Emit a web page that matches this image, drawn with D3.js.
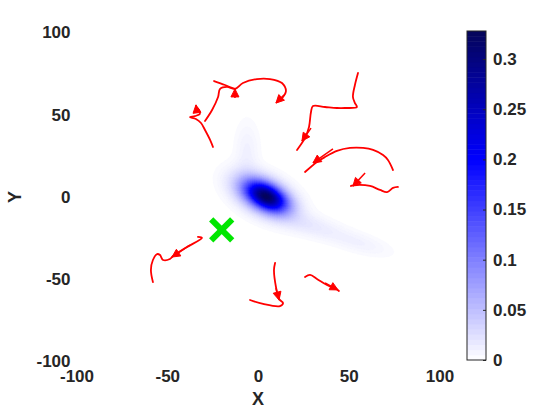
<!DOCTYPE html>
<html>
<head>
<meta charset="utf-8">
<script src="https://cdn.jsdelivr.net/npm/d3@7"></script>
<style>
body { margin: 0; background: #fff; }
text { font-family: "Liberation Sans", Arial, Helvetica, sans-serif; font-weight: bold; fill: #262626; }
</style>
</head>
<body>
<svg id="chart" width="560" height="420"></svg>
<script>
// ticks
var xTicks = [-100, -50, 0, 50, 100];
var yTicks = [-100, -50, 0, 50, 100];
var cbTicks = [0, 0.05, 0.1, 0.15, 0.2, 0.25, 0.3];
var cbMax = 0.328;

// density field, as a few elongated bumps
var blobX     = [5, 3, -6, 28, 56];
var blobY     = [0, 1, 28, -17, -28];
var blobSa    = [8, 11, 4.5, 13, 12];   // spread along the bump
var blobSb    = [4.5, 6.5, 12, 4.5, 4];  // spread across
var blobAngle = [-32, -32, 0, -18, -18];
var blobPeak  = [0.2, 0.13, 0.011, 0.016, 0.01];

// green cross
var target = [-20, -20];

// red tracks
var trackA = [[-24.8,30.4],[-26.4,34.7],[-29.2,40.7],[-31.4,45.0],[-34.2,47.4],[-37.5,48.6],[-34.7,49.2],[-32.0,50.5],[-32.5,52.9],[-34.2,54.7]];
var trackB0 = [[-24.2,70.5],[-18.2,68.1],[-12.7,65.7]];
var trackB = [[-29.2,46.2],[-25.3,52.9],[-22.0,60.8],[-20.9,65.7],[-17.1,66.9],[-12.7,65.7],[-8.3,69.3],[-0.6,71.7],[6.6,71.7],[13.2,69.3],[15.4,64.4],[13.8,60.8],[10.5,57.8]];
var trackC = [[55.1,75.4],[53.4,68.1],[52.3,60.8],[53.4,57.1],[54.5,54.7],[47.9,54.1],[43.5,54.1],[36.9,54.7],[30.3,55.3],[29.2,51.7],[28.1,42.6],[25.9,35.9],[24.2,32.8],[21.5,28.6]];
var trackD = [[74.4,16.4],[71.6,22.5],[68.9,25.5],[63.4,28.6],[57.9,29.8],[50.7,29.8],[43.5,28.0],[36.9,24.3],[32.5,21.3],[25.9,15.2]];
var trackE = [[77.1,6.1],[74.4,5.5],[71.1,3.0],[67.2,4.3],[61.7,6.7],[54.5,7.3],[51.2,6.7]];
var trackF = [[-57.9,-51.7],[-59.0,-44.4],[-57.9,-38.3],[-55.6,-34.7],[-54.0,-35.3],[-52.3,-38.3],[-48.5,-37.7],[-46.8,-35.9],[-39.1,-30.4],[-30.9,-24.9],[-33.1,-24.3]];
var trackG = [[-4.4,-62.6],[2.8,-65.0],[12.1,-66.3],[13.8,-64.4],[11.6,-62.0],[9.9,-54.7],[8.8,-44.4],[9.4,-40.1]];
var trackH = [[25.9,-48.6],[28.7,-47.4],[32.5,-49.8],[38.0,-53.5],[43.0,-55.9],[44.6,-57.1]];
var tracks = [trackA, trackB0, trackB, trackC, trackD, trackE, trackF, trackG, trackH];

// heading arrows: tail (x, y) and offset (u, v)
var arrowX = [-33.6, -12.7, 14.3, 29.2, 41.3, 59.0, -37.5, 9.9, 36.9];
var arrowY = [51.1, 60.2, 62.0, 41.9, 29.2, 14.6, -29.2, -55.3, -52.3];
var arrowU = [-0.6, 0.0, -4.4, -5.0, -11.0, -6.7, -9.9, 1.7, 7.2];
var arrowV = [4.9, 5.5, -4.9, -7.9, -8.5, -7.9, -7.3, -7.3, -4.2];

var svg = d3.select('#chart');

var x = d3.scaleLinear().domain([-100, 100]).range([76.5, 439.5]);
var y = d3.scaleLinear().domain([-100, 100]).range([361.5, 32.5]);

var color = d3.scaleLinear()
	.domain([0, 0.2, cbMax])
	.range(['#ffffff', '#0000ff', '#05055a'])
	.clamp(true);

svg.append('clipPath').attr('id', 'plotclip')
	.append('rect')
	.attr('x', x(-100)).attr('y', y(100))
	.attr('width', x(100) - x(-100)).attr('height', y(-100) - y(100));

var plot = svg.append('g').attr('clip-path', 'url(#plotclip)');

// density grid, 1 unit per cell, row 0 at the top
var step = 1, n = 201;
var grid = new Float64Array(n * n);
for (var j = 0; j < n; j++){
	for (var i = 0; i < n; i++){
		var X = -100 + i * step, Y = 100 - j * step, v = 0;
		for (var k = 0; k < blobX.length; k++){
			var a = blobAngle[k] * Math.PI / 180;
			var dx = X - blobX[k], dy = Y - blobY[k];
			var p = dx * Math.cos(a) + dy * Math.sin(a);
			var q = -dx * Math.sin(a) + dy * Math.cos(a);
			v += blobPeak[k] * Math.exp(-0.5 * (p * p / (blobSa[k] * blobSa[k]) + q * q / (blobSb[k] * blobSb[k])));
		}
		grid[j * n + i] = v;
	}
}

var levels = d3.range(1, 128).map(function(k){ return k * cbMax / 128; });
var contours = d3.contours().size([n, n]).thresholds(levels)(grid);

var toPlot = d3.geoTransform({
	point: function(gx, gy){
		this.stream.point(x(-100 + (gx - 0.5) * step), y(100 - (gy - 0.5) * step));
	}
});

plot.append('g').selectAll('path')
	.data(contours)
	.enter()
	.append('path')
	.attr('d', d3.geoPath(toPlot))
	.attr('fill', function(d){ return color(d.value + cbMax / 256); })
	.attr('stroke', function(d){ return color(d.value + cbMax / 256); })
	.attr('stroke-width', 0.3);

// tracks
var line = d3.line()
	.x(function(d){ return x(d[0]); })
	.y(function(d){ return y(d[1]); })
	.curve(d3.curveCatmullRom);

plot.append('g').selectAll('path')
	.data(tracks)
	.enter()
	.append('path')
	.attr('d', line)
	.attr('fill', 'none')
	.attr('stroke', '#ff0000')
	.attr('stroke-width', 1.8)
	.attr('stroke-linejoin', 'round')
	.attr('stroke-linecap', 'round');

// arrows
var arrowG = plot.append('g');
arrowX.forEach(function(ax, idx){
	var x0 = x(ax), y0 = y(arrowY[idx]);
	var x1 = x(ax + arrowU[idx]), y1 = y(arrowY[idx] + arrowV[idx]);
	var len = Math.hypot(x1 - x0, y1 - y0);
	var ux = (x1 - x0) / len, uy = (y1 - y0) / len;
	var L = 8, W = 4;
	arrowG.append('line')
		.attr('x1', x0).attr('y1', y0).attr('x2', x1).attr('y2', y1)
		.attr('stroke', '#ff0000').attr('stroke-width', 1.5);
	var bx = x1 - L * ux, by = y1 - L * uy;
	arrowG.append('polygon')
		.attr('points', [[x1, y1], [bx - W * uy, by + W * ux], [bx + W * uy, by - W * ux]].map(function(p){ return p.join(','); }).join(' '))
		.attr('fill', '#ff0000')
		.attr('stroke', '#ff0000')
		.attr('stroke-width', 1);
});

// green cross
var cx = x(target[0]), cy = y(target[1]), h = 10.5;
var cross = svg.append('g').attr('stroke', '#00e600').attr('stroke-width', 6).attr('stroke-linecap', 'butt');
cross.append('line').attr('x1', cx - h).attr('y1', cy - h).attr('x2', cx + h).attr('y2', cy + h);
cross.append('line').attr('x1', cx - h).attr('y1', cy + h).attr('x2', cx + h).attr('y2', cy - h);

// axes (labels only)
var plain = function(d){ return String(d); };
var xAxis = svg.append('g')
	.attr('transform', 'translate(0,' + (y(-100) + 8) + ')')
	.call(d3.axisBottom(x).tickValues(xTicks).tickSize(0).tickPadding(0).tickFormat(plain));
var yAxis = svg.append('g')
	.attr('transform', 'translate(' + (x(-100) - 6) + ',0)')
	.call(d3.axisLeft(y).tickValues(yTicks).tickSize(0).tickPadding(0).tickFormat(plain));
[xAxis, yAxis].forEach(function(g){
	g.select('.domain').remove();
	g.selectAll('text').style('font-size', '17px').attr('fill', '#262626')
		.style('font-family', '"Liberation Sans", Arial, sans-serif').style('font-weight', 'bold');
});
xAxis.selectAll('text').attr('dy', '0.71em');

svg.append('text')
	.attr('x', x(0)).attr('y', 405)
	.attr('text-anchor', 'middle')
	.style('font-size', '18px')
	.text('X');
svg.append('text')
	.attr('transform', 'translate(21,' + y(0) + ') rotate(-90)')
	.attr('text-anchor', 'middle')
	.style('font-size', '18px')
	.text('Y');

// colorbar
var cb = { x: 467, w: 19 };
var cbY = d3.scaleLinear().domain([0, cbMax]).range([360, 31]);
var bands = d3.range(64);
svg.append('g').selectAll('rect')
	.data(bands)
	.enter()
	.append('rect')
	.attr('x', cb.x)
	.attr('y', function(b){ return cbY((b + 1) * cbMax / 64); })
	.attr('width', cb.w)
	.attr('height', function(b){ return cbY(b * cbMax / 64) - cbY((b + 1) * cbMax / 64) + 0.5; })
	.attr('fill', function(b){ return color((b + 0.5) * cbMax / 64); });

var cbAxis = svg.append('g')
	.attr('transform', 'translate(' + (cb.x + cb.w) + ',0)')
	.call(d3.axisLeft(cbY).tickValues(cbTicks).tickSize(3).tickFormat(plain));
cbAxis.select('.domain').remove();
cbAxis.selectAll('line').attr('stroke', '#262626');
cbAxis.selectAll('text')
	.attr('x', 7).attr('text-anchor', 'start')
	.attr('fill', '#262626')
	.style('font-size', '17px')
	.style('font-family', '"Liberation Sans", Arial, sans-serif').style('font-weight', 'bold');

svg.append('rect')
	.attr('x', cb.x).attr('y', 31)
	.attr('width', cb.w).attr('height', 329)
	.attr('fill', 'none')
	.attr('stroke', '#262626')
	.attr('stroke-width', 1);
</script>
</body>
</html>
